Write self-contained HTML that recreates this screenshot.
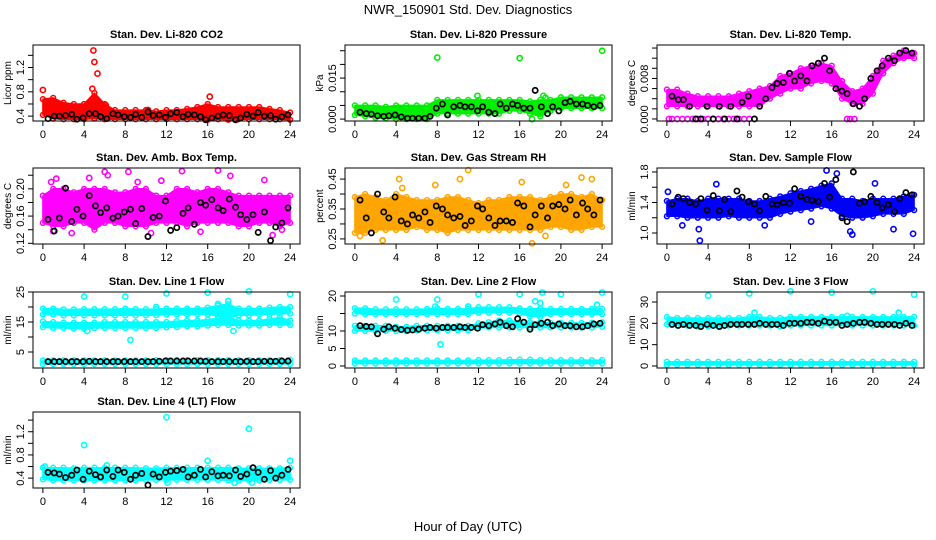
<!DOCTYPE html>
<html><head><meta charset="utf-8"><title>NWR_150901 Std. Dev. Diagnostics</title>
<style>
html,body{margin:0;padding:0;background:#fff;}
svg{display:block;font-family:"Liberation Sans",Arial,sans-serif;}
</style></head>
<body>
<svg id="chart" width="936" height="540" viewBox="0 0 936 540">
<text x="468" y="14" text-anchor="middle" font-size="13">NWR_150901  Std. Dev. Diagnostics</text>
<text x="468" y="531" text-anchor="middle" font-size="13">Hour of Day (UTC)</text>
</svg>
<script>
// ---- shared categories ----
const bandHours = [0,1,2,3,4,5,6,7,8,9,10,11,12,13,14,15,16,17,18,19,20,21,22,23,24];
const blackHours = [0.5,1.1,1.6,2.2,2.8,3.3,3.9,4.5,5.1,5.6,6.2,6.8,7.3,7.9,8.5,9.0,9.6,10.2,10.7,11.3,11.9,12.4,13.0,13.6,14.1,14.7,15.3,15.8,16.4,17.0,17.5,18.1,18.7,19.2,19.8,20.4,20.9,21.5,22.1,22.6,23.2,23.8];
const xTickLabels = [0,4,8,12,16,20,24];

// ---- panel 1: CO2 ----
const co2Hi = [0.68,0.7,0.62,0.6,0.6,0.78,0.6,0.5,0.5,0.5,0.5,0.48,0.5,0.5,0.52,0.55,0.6,0.55,0.55,0.55,0.55,0.55,0.52,0.5,0.46];
const co2Lo = [0.42,0.36,0.35,0.35,0.35,0.36,0.35,0.35,0.35,0.35,0.35,0.35,0.35,0.35,0.35,0.35,0.34,0.35,0.34,0.35,0.35,0.35,0.35,0.35,0.34];
const co2OutH = [0,4.8,4.9,5.0,5.3,16.2,6.1,10.2];
const co2OutV = [0.83,0.85,1.48,1.29,1.1,0.72,0.58,0.5];
const co2Black = [0.36,0.40,0.40,0.41,0.43,0.35,0.37,0.44,0.44,0.39,0.36,0.44,0.42,0.39,0.38,0.43,0.38,0.47,0.41,0.42,0.38,0.44,0.46,0.39,0.43,0.42,0.39,0.34,0.37,0.40,0.42,0.41,0.34,0.37,0.43,0.40,0.46,0.40,0.41,0.35,0.39,0.42];

// ---- panel 2: Pressure ----
const presHi = [0.005,0.005,0.005,0.0045,0.005,0.005,0.005,0.005,0.007,0.007,0.007,0.007,0.007,0.007,0.007,0.007,0.007,0.0065,0.007,0.007,0.008,0.008,0.008,0.008,0.008];
const presLo = [0.0015,0.001,0.0005,0.0003,0.0,0.0,0.0,0.0,0.002,0.002,0.002,0.002,0.002,0.002,0.002,0.003,0.003,0.002,0.001,0.003,0.004,0.004,0.004,0.004,0.004];
const presOutH = [8,16,24,11.9,18.3,18.5,17.2];
const presOutV = [0.0225,0.0223,0.025,0.0085,0.0085,0.0078,0.0000];
const presBlack = [0.0025,0.0020,0.0018,0.0012,0.0010,0.0012,0.0015,0.0008,0.0003,0.0003,0.0003,0.0003,0.0010,0.0040,0.0055,0.0015,0.0045,0.0050,0.0045,0.0045,0.0030,0.0045,0.0025,0.0020,0.0055,0.0040,0.0055,0.0050,0.0040,0.0040,0.0105,0.0045,0.0020,0.0045,0.0030,0.0060,0.0065,0.0055,0.0055,0.0050,0.0045,0.0050];

// ---- panel 3: Li-820 Temp ----
const tempHi = [0.0058,0.0058,0.005,0.0045,0.0045,0.0045,0.0045,0.005,0.0055,0.006,0.0065,0.0085,0.009,0.01,0.0105,0.011,0.0105,0.0075,0.0055,0.006,0.0085,0.0115,0.0125,0.0135,0.013];
const tempLo = [0.0025,0.0025,0.0025,0.0025,0.0025,0.0025,0.0025,0.0025,0.0025,0.0025,0.004,0.005,0.006,0.006,0.007,0.0075,0.007,0.004,0.003,0.003,0.005,0.009,0.011,0.012,0.012];
const tempZeroH = [0.2,0.5,1.0,1.5,2.0,2.5,3.0,3.5,4.0,4.5,5.0,5.5,6.0,6.5,7.0,7.5,8.0,17.5,17.8,18.2];
const tempZeroV = [0,0,0,0,0,0,0,0,0,0,0,0,0,0,0,0,0,0,0,0];
const tempBlack = [0.0045,0.0038,0.0038,0.0025,0.0000,0.0000,0.0025,0.0000,0.0025,0.0000,0.0025,0.0000,0.0033,0.0045,0.0000,0.0025,0.0040,0.0062,0.0070,0.0072,0.0090,0.0075,0.0085,0.0075,0.0105,0.0110,0.0120,0.0095,0.0060,0.0055,0.0050,0.0030,0.0025,0.0040,0.0080,0.0095,0.0105,0.0120,0.0115,0.0130,0.0135,0.0130];

// ---- panel 4: Amb Box Temp ----
const ambHi = [0.19,0.2,0.2,0.195,0.2,0.2,0.2,0.195,0.195,0.2,0.2,0.19,0.19,0.2,0.2,0.195,0.2,0.2,0.195,0.19,0.19,0.19,0.19,0.19,0.19];
const ambLo = [0.15,0.145,0.145,0.15,0.15,0.14,0.15,0.15,0.145,0.145,0.145,0.15,0.15,0.15,0.145,0.15,0.15,0.15,0.15,0.145,0.145,0.15,0.15,0.145,0.15];
const ambOutH = [0.8,1.3,6.0,6.3,8.3,13.5,17.0,18.2,21.5,2.8,1.0,15.3,22.3,10.5,4.5,9.2,11.5,23.2];
const ambOutV = [0.21,0.215,0.225,0.22,0.225,0.226,0.227,0.219,0.213,0.135,0.138,0.137,0.132,0.135,0.216,0.21,0.212,0.14];
const ambBlack = [0.155,0.138,0.157,0.201,0.152,0.170,0.160,0.190,0.175,0.165,0.172,0.157,0.160,0.166,0.170,0.149,0.171,0.130,0.158,0.160,0.182,0.139,0.143,0.164,0.172,0.148,0.180,0.176,0.184,0.172,0.168,0.185,0.173,0.162,0.155,0.162,0.136,0.166,0.124,0.144,0.150,0.172];

// ---- panel 5: Gas Stream RH ----
const rhHi = [0.39,0.4,0.39,0.38,0.4,0.39,0.38,0.38,0.38,0.39,0.39,0.38,0.37,0.38,0.38,0.39,0.39,0.39,0.38,0.39,0.4,0.4,0.39,0.4,0.38];
const rhLo = [0.27,0.27,0.28,0.28,0.28,0.28,0.29,0.28,0.28,0.27,0.28,0.28,0.28,0.28,0.28,0.28,0.28,0.28,0.28,0.29,0.29,0.28,0.28,0.29,0.29];
const rhOutH = [4.3,7.8,10.2,11.0,16.2,20.5,22.0,23.0,17.2,2.7,18.5,0.5,4.6];
const rhOutV = [0.45,0.43,0.45,0.48,0.44,0.43,0.455,0.45,0.235,0.245,0.26,0.26,0.42];
const rhBlack = [0.38,0.32,0.27,0.40,0.34,0.32,0.39,0.31,0.30,0.33,0.32,0.34,0.305,0.36,0.35,0.33,0.32,0.325,0.295,0.31,0.36,0.35,0.32,0.295,0.31,0.31,0.305,0.37,0.36,0.29,0.33,0.36,0.32,0.36,0.365,0.35,0.38,0.33,0.37,0.35,0.33,0.38];

// ---- panel 6: Sample Flow ----
const flowHi = [1.42,1.45,1.45,1.42,1.45,1.45,1.45,1.45,1.42,1.42,1.45,1.48,1.52,1.55,1.58,1.62,1.65,1.45,1.45,1.42,1.45,1.45,1.45,1.48,1.5];
const flowLo = [1.22,1.22,1.2,1.2,1.2,1.2,1.22,1.2,1.2,1.2,1.2,1.25,1.28,1.3,1.32,1.35,1.32,1.22,1.2,1.2,1.22,1.25,1.25,1.25,1.3];
const flowOutH = [1.5,3.1,3.2,17.8,18.0,23.9,9.5,14.0,15.5,16.5,22.0,0.1,4.8,20.2];
const flowOutV = [1.1,1.05,0.9,1.02,0.98,0.99,1.1,1.15,1.82,1.78,1.05,1.54,1.64,1.65];
const flowBlack = [1.38,1.47,1.45,1.40,1.38,1.45,1.30,1.49,1.29,1.44,1.28,1.55,1.47,1.41,1.38,1.29,1.48,1.38,1.37,1.40,1.39,1.58,1.48,1.44,1.43,1.41,1.65,1.47,1.70,1.20,1.15,1.80,1.39,1.41,1.48,1.40,1.33,1.37,1.28,1.45,1.53,1.50];

// ---- panel 7: Line 1 Flow ----
const l1HiA = [19.5,19.5,19.2,19.2,19.3,19.3,19.3,19.3,19.5,19.3,19.3,19.3,19.5,19.5,19.5,19.5,19.8,20.5,21.0,19.5,19.5,19.5,19.8,20,20];
const l1LoA = [17.5,17.5,17.2,17.2,17.2,17.2,17.2,17.2,17.2,17.2,17.2,17.3,17.5,17.5,17.5,17.5,17.5,17.0,16.5,17.2,17.2,17.5,17.5,17.8,17.8];
const l1HiB = [15.2,15,14.8,14.8,14.8,14.8,15,15,15,15,15,15,15,15.3,15.5,15.5,15.8,16.2,16.5,15.5,15.5,15.5,16,16.5,15.5];
const l1LoB = [13.3,13,13,12.8,12.8,13,13,13,13,13,13,13,13.2,13.3,13.5,13.5,13.8,14,14,13.8,13.8,13.8,14,14,14];
const l1HiC = [2.2,2.2,2.2,2.2,2.2,2.2,2.2,2.2,2.2,2.2,2.2,2.3,2.3,2.3,2.3,2.3,2.3,2.3,2.3,2.3,2.3,2.3,2.3,2.3,2.4];
const l1LoC = [1.0,1.0,1.0,1.0,1.0,1.0,1.0,1.0,1.0,1.0,1.0,1.0,1.0,1.0,1.0,1.0,1.0,1.0,1.0,1.0,1.0,1.0,1.0,1.0,1.0];
const l1OutH = [4.0,8.0,12.0,16.0,20.0,24.0,8.5,4.3,18.5,11.0,17.0,18.0];
const l1OutV = [23.5,23.5,24.5,24.8,25.2,24.3,9.0,12.0,12.0,20.0,21.0,22.0];
const l1Black = [1.8,1.8,1.8,1.8,1.8,1.8,1.8,1.9,1.8,1.8,1.8,1.8,1.8,1.8,1.8,1.8,1.8,1.8,1.8,1.9,2.0,2.0,2.0,2.0,2.0,2.0,2.0,1.9,1.8,1.8,1.8,1.8,1.8,1.8,1.9,1.8,1.8,1.9,1.9,1.9,2.0,2.0];

// ---- panel 8: Line 2 Flow ----
const l2HiA = [16.5,16.5,16.2,16.2,16.2,16.2,16.2,16.3,16.5,16.3,16.3,16.3,16.8,16.8,16.8,16.8,16.5,16.3,16.5,16.3,16.3,16.3,16.3,16.3,16.3];
const l2LoA = [15,14.8,14.8,14.8,14.8,14.8,14.8,14.8,14.8,14.8,14.8,14.8,15.2,15.2,15.2,15.2,15.0,14.2,14.0,14.8,14.8,14.8,14.8,14.8,14.8];
const l2HiB = [11.5,11.5,11.5,11.5,11.2,11.2,11.5,11.5,11.5,11.5,11.5,11.5,12.2,12.5,13,13,12.5,12.5,12.5,12.3,12.3,12.3,12.3,12.3,12.5];
const l2LoB = [10,10,10,10,10,10,10.2,10.2,10.2,10.2,10.2,10.2,10.8,11,11,11,11,11,11,11,11,11,11,11,11.2];
const l2HiC = [1.6,1.6,1.6,1.6,1.6,1.6,1.6,1.6,1.6,1.6,1.6,1.6,1.7,1.7,1.7,1.8,1.8,1.8,1.7,1.7,1.7,1.7,1.7,1.7,1.7];
const l2LoC = [0.7,0.7,0.7,0.7,0.7,0.7,0.7,0.7,0.7,0.7,0.7,0.7,0.7,0.7,0.7,0.7,0.7,0.7,0.7,0.7,0.7,0.7,0.7,0.7,0.7];
const l2OutH = [4.0,8.0,12.0,16.0,18.2,20.0,24.0,8.3,7.8,11.0,17.5,18.0,23.5];
const l2OutV = [19.0,19.0,20.5,20.5,21.0,20.5,21.0,6.2,17.0,17.0,18.5,18.0,17.5];
const l2Black = [11.5,11.3,11.2,9.2,10.5,11.2,10.8,10.4,10.2,10.3,10.5,10.8,11.0,10.8,11.0,11.0,11.0,11.2,11.0,11.0,10.8,11.8,11.5,12.0,12.5,11.5,11.2,13.5,12.5,10.5,11.8,12.2,12.5,11.5,12.0,11.5,11.5,11.2,11.2,11.5,12.0,12.2];

// ---- panel 9: Line 3 Flow ----
const l3HiA = [23,22.5,22.5,22.5,22.5,22.5,22.5,22.5,23,23,22.5,22.5,23,23,23,23,23,23,23,23,23,23,23,23,23];
const l3LoA = [19.5,19,19,18.5,18.5,18.5,19,19,19,19,19,18.5,19,19,19,19,19,19,19,19,19,19,19,19,19];
const l3HiC = [2.0,2.0,2.0,2.0,2.0,2.0,2.0,2.0,2.0,2.0,2.0,2.0,2.0,2.0,2.0,2.0,2.0,2.0,2.0,2.0,2.0,2.0,2.0,2.0,2.0];
const l3LoC = [0.5,0.5,0.5,0.5,0.5,0.5,0.5,0.5,0.5,0.5,0.5,0.5,0.5,0.5,0.5,0.5,0.5,0.5,0.5,0.5,0.5,0.5,0.5,0.5,0.5];
const l3OutH = [4.0,8.0,12.0,16.0,20.0,24.0,8.5,22.5,17.5];
const l3OutV = [33.0,34.0,35.0,34.5,35.0,33.5,25.0,25.0,23.5];
const l3Black = [19.5,19.0,19.5,19.0,19.0,18.5,19.5,19.0,18.5,19.0,19.5,19.5,19.5,19.5,19.5,20.0,19.5,19.5,19.5,19.0,20.0,20.0,20.0,20.5,20.5,20.0,21.0,20.5,20.5,19.0,19.5,20.0,20.5,20.5,20.0,19.5,19.5,19.5,19.5,19.0,20.0,19.0];

// ---- panel 10: Line 4 (LT) Flow ----
const l4Hi = [0.58,0.58,0.58,0.57,0.58,0.58,0.58,0.58,0.58,0.58,0.57,0.57,0.58,0.58,0.58,0.58,0.58,0.58,0.58,0.57,0.57,0.57,0.57,0.57,0.58];
const l4Lo = [0.38,0.36,0.36,0.36,0.36,0.36,0.36,0.36,0.36,0.36,0.37,0.37,0.37,0.37,0.37,0.37,0.37,0.37,0.36,0.36,0.36,0.36,0.37,0.37,0.37];
const l4OutH = [4.0,12.0,20.0,16.0,24.0,0.2,12.1,18.6,20.3,6.2];
const l4OutV = [0.97,1.45,1.25,0.70,0.70,0.60,0.32,0.32,0.32,0.62];
const l4Black = [0.50,0.49,0.47,0.41,0.45,0.54,0.38,0.52,0.46,0.42,0.54,0.43,0.54,0.50,0.38,0.45,0.48,0.28,0.47,0.42,0.50,0.52,0.53,0.55,0.42,0.45,0.55,0.42,0.51,0.44,0.45,0.44,0.54,0.43,0.47,0.58,0.50,0.38,0.53,0.40,0.45,0.55];

// ---- layout (presentation only) ----
const SVGNS = "http://www.w3.org/2000/svg";
const svg = document.getElementById('chart');
const colLeft = [33,345,657];
const rowTop = [45,168,292,412];
const PW = 267, PH = 76;

function mk(tag, attrs, parent){
  const el = document.createElementNS(SVGNS, tag);
  for (const k in attrs) el.setAttribute(k, attrs[k]);
  (parent||svg).appendChild(el);
  return el;
}

const panels = [
 {key:'co2', title:'Stan. Dev. Li-820 CO2', ylab:'Licor ppm', c:0,r:0, ymin:0.32,ymax:1.57, ticks:[0.4,0.6,0.8,1.0,1.2,1.4], labels:[0.4,0.8,1.2], dec:1, color:'#ff0000',
  bands:[[co2Lo,co2Hi]], outH:co2OutH, outV:co2OutV, black:co2Black},
 {key:'pressure', title:'Stan. Dev. Li-820 Pressure', ylab:'kPa', c:1,r:0, ymin:-0.0007,ymax:0.0271, ticks:[0,0.005,0.01,0.015,0.02,0.025], labels:[0,0.015], dec:3, color:'#00ee00',
  bands:[[presLo,presHi]], outH:presOutH, outV:presOutV, black:presBlack},
 {key:'li820-temp', title:'Stan. Dev. Li-820 Temp.', ylab:'degrees C', c:2,r:0, ymin:-0.0004,ymax:0.0146, ticks:[0,0.002,0.004,0.006,0.008,0.01,0.012,0.014], labels:[0,0.008], dec:3, color:'#ff00ff',
  bands:[[tempLo,tempHi]], outH:tempZeroH, outV:tempZeroV, black:tempBlack},
 {key:'amb-box-temp', title:'Stan. Dev. Amb. Box Temp.', ylab:'degrees C', c:0,r:1, ymin:0.119,ymax:0.2306, ticks:[0.12,0.14,0.16,0.18,0.2,0.22], labels:[0.12,0.16,0.20], dec:2, color:'#ff00ff',
  bands:[[ambLo,ambHi]], outH:ambOutH, outV:ambOutV, black:ambBlack},
 {key:'gas-stream-rh', title:'Stan. Dev. Gas Stream RH', ylab:'percent', c:1,r:1, ymin:0.233,ymax:0.487, ticks:[0.25,0.3,0.35,0.4,0.45], labels:[0.25,0.35,0.45], dec:2, color:'#ffa500',
  bands:[[rhLo,rhHi]], outH:rhOutH, outV:rhOutV, black:rhBlack},
 {key:'sample-flow', title:'Stan. Dev. Sample Flow', ylab:'ml/min', c:2,r:1, ymin:0.856,ymax:1.852, ticks:[1.0,1.2,1.4,1.6,1.8], labels:[1.0,1.4,1.8], dec:1, color:'#0000ff',
  bands:[[flowLo,flowHi]], outH:flowOutH, outV:flowOutV, black:flowBlack},
 {key:'line1-flow', title:'Stan. Dev. Line 1 Flow', ylab:'ml/min', c:0,r:2, ymin:-0.33,ymax:25, ticks:[5,10,15,20,25], labels:[5,15,25], dec:0, color:'#00ffff',
  bands:[[l1LoA,l1HiA],[l1LoB,l1HiB],[l1LoC,l1HiC]], outH:l1OutH, outV:l1OutV, black:l1Black},
 {key:'line2-flow', title:'Stan. Dev. Line 2 Flow', ylab:'ml/min', c:1,r:2, ymin:-0.57,ymax:21.14, ticks:[0,5,10,15,20], labels:[0,5,10,20], dec:0, color:'#00ffff',
  bands:[[l2LoA,l2HiA],[l2LoB,l2HiB],[l2LoC,l2HiC]], outH:l2OutH, outV:l2OutV, black:l2Black},
 {key:'line3-flow', title:'Stan. Dev. Line 3 Flow', ylab:'ml/min', c:2,r:2, ymin:-0.94,ymax:34.7, ticks:[0,10,20,30], labels:[0,10,20,30], dec:0, color:'#00ffff',
  bands:[[l3LoA,l3HiA],[l3LoC,l3HiC]], outH:l3OutH, outV:l3OutV, black:l3Black},
 {key:'line4-flow', title:'Stan. Dev. Line 4 (LT) Flow', ylab:'ml/min', c:0,r:3, ymin:0.23,ymax:1.54, ticks:[0.4,0.6,0.8,1.0,1.2,1.4], labels:[0.4,0.8,1.2], dec:1, color:'#00ffff',
  bands:[[l4Lo,l4Hi]], outH:l4OutH, outV:l4OutV, black:l4Black}
];

panels.forEach(p => {
  const L = colLeft[p.c], T = rowTop[p.r], B = T + PH;
  const xs = h => L + (h + 0.96) / 25.92 * PW;
  const ys = v => B - (v - p.ymin) / (p.ymax - p.ymin) * PH;
  const g = mk('g', {});
  
  

  const title = mk('text', {x: L + PW/2, y: T - 7, 'text-anchor':'middle', 'font-size':'11', 'font-weight':'bold'}, g);
  title.textContent = p.title;
  
  

  p.bands.forEach((bd, bi) => {
    const lo = bd[0], hi = bd[1];
    let pts = [];
    bandHours.forEach((h,i) => pts.push(xs(h).toFixed(1)+','+ys(hi[i]).toFixed(1)));
    for (let i = bandHours.length-1; i >= 0; i--) pts.push(xs(bandHours[i]).toFixed(1)+','+ys(lo[i]).toFixed(1));
    const poly = mk('polygon', {points: pts.join(' '), fill: p.color, stroke: p.color, 'stroke-width':'1.5', 'stroke-linejoin':'round'}, g);
    
    
    bandHours.forEach((h,i) => {
      [hi[i], lo[i]].forEach(v => {
        const c = mk('circle', {cx: xs(h), cy: ys(v), r: 2.4, fill:'none', stroke:p.color, 'stroke-width':'1.5'}, g);
        
        
      });
    });
  });
  p.outH.forEach((h,i) => {
    const c = mk('circle', {cx: xs(h), cy: ys(p.outV[i]), r: 2.6, fill:'none', stroke:p.color, 'stroke-width':'1.6'}, g);
    
    
  });
  blackHours.forEach((h,i) => {
    const c = mk('circle', {cx: xs(h), cy: ys(p.black[i]), r: 2.6, fill:'none', stroke:'#000', 'stroke-width':'1.7'}, g);
    
    
  });

  const frame = mk('rect', {x:L, y:T, width:PW, height:PH, fill:'none', stroke:'#000', 'stroke-width':'1'}, g);
  
  

  xTickLabels.forEach(t => {
    const x = xs(t);
    const tk = mk('line', {x1:x, x2:x, y1:B, y2:B+5, stroke:'#000'}, g);
    
    
    const lb = mk('text', {x:x, y:B+17, 'text-anchor':'middle', 'font-size':'11'}, g);
    lb.textContent = t;
    
    
  });
  p.ticks.forEach(t => {
    const y = ys(t);
    const tk = mk('line', {x1:L-5, x2:L, y1:y, y2:y, stroke:'#000'}, g);
    
    
  });
  p.labels.forEach(t => {
    const y = ys(t);
    const lb = mk('text', {x:L-9, y:y, 'text-anchor':'middle', 'font-size':'11', transform:'rotate(-90 '+(L-9)+' '+y+')'}, g);
    lb.textContent = t.toFixed(p.dec);
    
    
  });
  const yl = mk('text', {x:L-22, y:T+PH/2, 'text-anchor':'middle', 'font-size':'10', transform:'rotate(-90 '+(L-22)+' '+(T+PH/2)+')'}, g);
  yl.textContent = p.ylab;
  
  
});
</script>
</body></html>
